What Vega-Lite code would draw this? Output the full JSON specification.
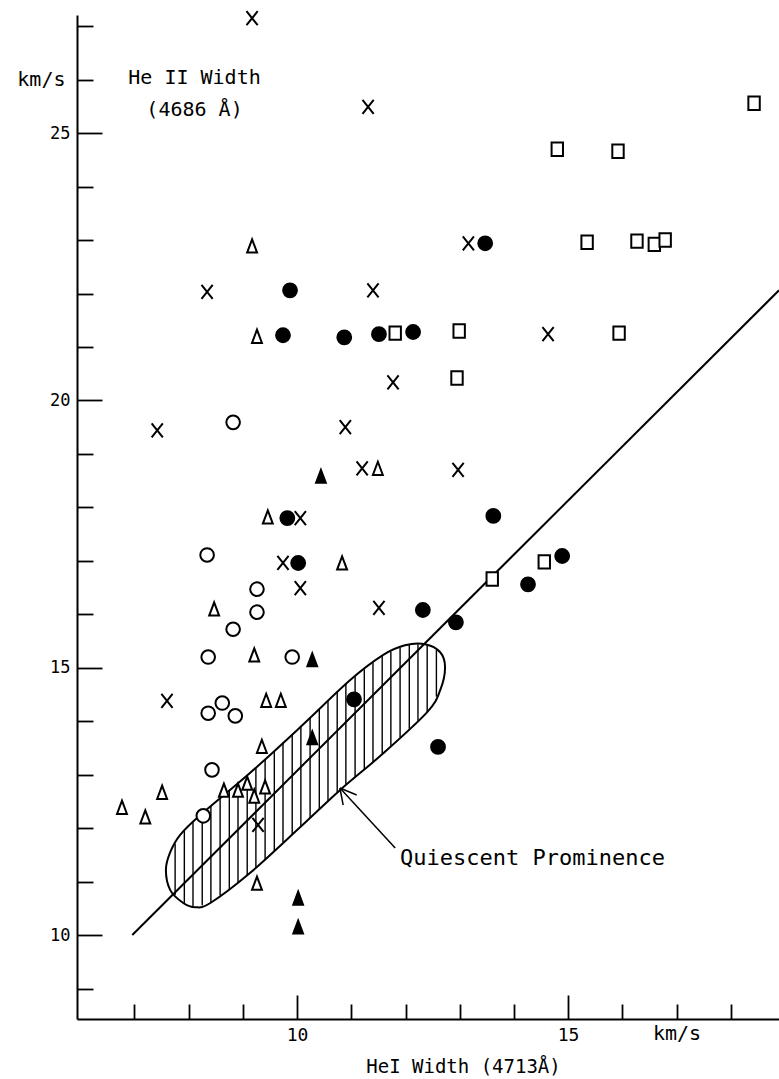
{
  "$schema": "https://vega.github.io/schema/vega-lite/v6.json",
  "width": 702,
  "height": 1004,
  "autosize": {"type": "none"},
  "padding": {"left": 77, "top": 15, "right": 0, "bottom": 60},
  "background": "white",
  "config": {"view": {"stroke": null}, "font": "DejaVu Sans Mono"},
  "datasets": {
    "points": [
      {"type": "cross", "x": 9.17, "y": 27.15},
      {"type": "cross", "x": 11.31, "y": 25.49},
      {"type": "cross", "x": 13.16, "y": 22.94},
      {"type": "cross", "x": 8.34, "y": 22.03},
      {"type": "cross", "x": 11.40, "y": 22.06},
      {"type": "cross", "x": 14.63, "y": 21.24},
      {"type": "cross", "x": 11.77, "y": 20.34},
      {"type": "cross", "x": 7.42, "y": 19.44},
      {"type": "cross", "x": 10.89, "y": 19.50},
      {"type": "cross", "x": 11.20, "y": 18.73},
      {"type": "cross", "x": 12.97, "y": 18.70},
      {"type": "cross", "x": 10.06, "y": 17.80},
      {"type": "cross", "x": 9.74, "y": 16.96},
      {"type": "cross", "x": 10.06, "y": 16.49},
      {"type": "cross", "x": 11.51, "y": 16.12},
      {"type": "cross", "x": 7.60, "y": 14.38},
      {"type": "cross", "x": 9.28, "y": 12.06},
      {"type": "disc", "x": 13.47, "y": 22.94},
      {"type": "disc", "x": 9.87, "y": 22.06},
      {"type": "disc", "x": 9.74, "y": 21.22},
      {"type": "disc", "x": 10.87, "y": 21.18},
      {"type": "disc", "x": 11.51, "y": 21.24},
      {"type": "disc", "x": 12.14, "y": 21.28},
      {"type": "disc", "x": 9.82, "y": 17.80},
      {"type": "disc", "x": 10.02, "y": 16.96},
      {"type": "disc", "x": 13.62, "y": 17.84},
      {"type": "disc", "x": 14.89, "y": 17.09},
      {"type": "disc", "x": 14.26, "y": 16.56},
      {"type": "disc", "x": 12.32, "y": 16.08},
      {"type": "disc", "x": 12.93, "y": 15.85},
      {"type": "disc", "x": 11.05, "y": 14.41},
      {"type": "disc", "x": 12.60, "y": 13.52},
      {"type": "ring", "x": 8.82, "y": 19.59},
      {"type": "ring", "x": 8.34, "y": 17.11},
      {"type": "ring", "x": 9.26, "y": 16.47},
      {"type": "ring", "x": 9.26, "y": 16.04},
      {"type": "ring", "x": 8.82, "y": 15.72},
      {"type": "ring", "x": 8.36, "y": 15.20},
      {"type": "ring", "x": 9.91, "y": 15.20},
      {"type": "ring", "x": 8.36, "y": 14.15},
      {"type": "ring", "x": 8.62, "y": 14.34},
      {"type": "ring", "x": 8.86, "y": 14.10},
      {"type": "ring", "x": 8.43, "y": 13.09},
      {"type": "ring", "x": 8.27, "y": 12.23},
      {"type": "square", "x": 18.43, "y": 25.56},
      {"type": "square", "x": 14.80, "y": 24.70},
      {"type": "square", "x": 15.92, "y": 24.66},
      {"type": "square", "x": 15.35, "y": 22.96},
      {"type": "square", "x": 16.27, "y": 22.98},
      {"type": "square", "x": 16.59, "y": 22.92},
      {"type": "square", "x": 16.79, "y": 23.00},
      {"type": "square", "x": 11.81, "y": 21.26},
      {"type": "square", "x": 12.99, "y": 21.30},
      {"type": "square", "x": 15.94, "y": 21.26},
      {"type": "square", "x": 12.95, "y": 20.42},
      {"type": "square", "x": 13.60, "y": 16.66},
      {"type": "square", "x": 14.56, "y": 16.98},
      {"type": "tri_open", "x": 9.17, "y": 22.89},
      {"type": "tri_open", "x": 9.26, "y": 21.20},
      {"type": "tri_open", "x": 11.49, "y": 18.73},
      {"type": "tri_open", "x": 9.46, "y": 17.82},
      {"type": "tri_open", "x": 10.83, "y": 16.96},
      {"type": "tri_open", "x": 8.47, "y": 16.10},
      {"type": "tri_open", "x": 9.21, "y": 15.24},
      {"type": "tri_open", "x": 9.43, "y": 14.39},
      {"type": "tri_open", "x": 9.70, "y": 14.39},
      {"type": "tri_open", "x": 9.35, "y": 13.53},
      {"type": "tri_open", "x": 6.77, "y": 12.39},
      {"type": "tri_open", "x": 7.20, "y": 12.21},
      {"type": "tri_open", "x": 7.51, "y": 12.67},
      {"type": "tri_open", "x": 8.65, "y": 12.71},
      {"type": "tri_open", "x": 8.91, "y": 12.71},
      {"type": "tri_open", "x": 9.08, "y": 12.84},
      {"type": "tri_open", "x": 9.21, "y": 12.60},
      {"type": "tri_open", "x": 9.41, "y": 12.77},
      {"type": "tri_open", "x": 9.26, "y": 10.97},
      {"type": "tri_filled", "x": 10.44, "y": 18.58},
      {"type": "tri_filled", "x": 10.28, "y": 15.15},
      {"type": "tri_filled", "x": 10.28, "y": 13.69},
      {"type": "tri_filled", "x": 10.02, "y": 10.69},
      {"type": "tri_filled", "x": 10.02, "y": 10.15}
    ],
    "hatch": [
      {"x": 7.75, "y": 11.71, "yb": 10.75},
      {"x": 7.92, "y": 11.95, "yb": 10.59},
      {"x": 8.08, "y": 12.11, "yb": 10.54},
      {"x": 8.25, "y": 12.28, "yb": 10.56},
      {"x": 8.41, "y": 12.42, "yb": 10.61},
      {"x": 8.58, "y": 12.56, "yb": 10.74},
      {"x": 8.75, "y": 12.70, "yb": 10.86},
      {"x": 8.91, "y": 12.84, "yb": 10.99},
      {"x": 9.08, "y": 12.98, "yb": 11.12},
      {"x": 9.24, "y": 13.13, "yb": 11.26},
      {"x": 9.41, "y": 13.29, "yb": 11.42},
      {"x": 9.58, "y": 13.44, "yb": 11.57},
      {"x": 9.74, "y": 13.60, "yb": 11.73},
      {"x": 9.91, "y": 13.75, "yb": 11.88},
      {"x": 10.07, "y": 13.91, "yb": 12.04},
      {"x": 10.24, "y": 14.07, "yb": 12.19},
      {"x": 10.41, "y": 14.23, "yb": 12.35},
      {"x": 10.57, "y": 14.38, "yb": 12.50},
      {"x": 10.74, "y": 14.54, "yb": 12.66},
      {"x": 10.90, "y": 14.70, "yb": 12.81},
      {"x": 11.07, "y": 14.84, "yb": 12.95},
      {"x": 11.24, "y": 14.97, "yb": 13.10},
      {"x": 11.40, "y": 15.09, "yb": 13.24},
      {"x": 11.57, "y": 15.22, "yb": 13.39},
      {"x": 11.73, "y": 15.30, "yb": 13.54},
      {"x": 11.90, "y": 15.38, "yb": 13.70},
      {"x": 12.07, "y": 15.43, "yb": 13.86},
      {"x": 12.23, "y": 15.44, "yb": 14.01},
      {"x": 12.40, "y": 15.42, "yb": 14.17},
      {"x": 12.57, "y": 15.33, "yb": 14.46}
    ],
    "outline": [
      {"o": 1, "x": 7.58, "y": 11.22},
      {"o": 2, "x": 7.66, "y": 10.84},
      {"o": 3, "x": 7.90, "y": 10.60},
      {"o": 4, "x": 8.12, "y": 10.52},
      {"o": 5, "x": 8.40, "y": 10.60},
      {"o": 6, "x": 9.13, "y": 11.16},
      {"o": 7, "x": 10.06, "y": 12.02},
      {"o": 8, "x": 10.79, "y": 12.71},
      {"o": 9, "x": 11.59, "y": 13.40},
      {"o": 10, "x": 12.40, "y": 14.17},
      {"o": 11, "x": 12.64, "y": 14.58},
      {"o": 12, "x": 12.73, "y": 15.01},
      {"o": 13, "x": 12.64, "y": 15.29},
      {"o": 14, "x": 12.36, "y": 15.44},
      {"o": 15, "x": 11.99, "y": 15.42},
      {"o": 16, "x": 11.59, "y": 15.24},
      {"o": 17, "x": 10.98, "y": 14.77},
      {"o": 18, "x": 10.06, "y": 13.89},
      {"o": 19, "x": 9.13, "y": 13.03},
      {"o": 20, "x": 8.21, "y": 12.24},
      {"o": 21, "x": 7.84, "y": 11.87},
      {"o": 22, "x": 7.66, "y": 11.55}
    ],
    "fit": [
      {"x": 6.96, "y": 10.0, "xe": 18.89, "ye": 22.06}
    ],
    "arrow": [
      {"x": 11.81, "y": 11.63, "xe": 10.79, "ye": 12.75},
      {"x": 10.79, "y": 12.75, "xe": 11.10, "ye": 12.62},
      {"x": 10.79, "y": 12.75, "xe": 10.85, "ye": 12.43}
    ],
    "notes": [
      {"x": 11.90, "y": 11.31, "text": "Quiescent Prominence"}
    ]
  },
  "encoding": {
    "x": {
      "field": "x",
      "type": "quantitative",
      "scale": {"domain": [5.94, 18.89], "nice": false, "zero": false},
      "axis": {
        "values": [7, 8, 9, 10, 11, 12, 13, 14, 15, 16, 17, 18],
        "grid": false,
        "title": "HeI Width (4713Å)",
        "titleFont": "DejaVu Sans Mono",
        "titleFontSize": 19,
        "titleFontWeight": "normal",
        "titleColor": "black",
        "titleX": 386,
        "titleY": 53,
        "titleAlign": "center",
        "titleBaseline": "alphabetic",
        "labelExpr": "datum.value == 10 || datum.value == 15 ? datum.label : (datum.value == 17 ? 'km/s' : '')",
        "labelFont": "DejaVu Sans Mono",
        "labelFontSize": {"condition": {"test": "datum.value == 17", "value": 20}, "value": 18},
        "labelColor": "black",
        "labelPadding": {"condition": {"test": "datum.value == 10 || datum.value == 15", "value": 31}, "value": 19},
        "labelFlush": false,
        "labelOverlap": false,
        "tickSize": {"condition": {"test": "datum.value == 10 || datum.value == 15", "value": -24}, "value": -15},
        "tickColor": "black",
        "tickWidth": 1.8,
        "domainColor": "black",
        "domainWidth": 2
      }
    },
    "y": {
      "field": "y",
      "type": "quantitative",
      "scale": {"domain": [8.43, 27.21], "nice": false, "zero": false},
      "axis": {
        "values": [9, 10, 11, 12, 13, 14, 15, 16, 17, 18, 19, 20, 21, 22, 23, 24, 25, 26, 27],
        "grid": false,
        "title": ["He II Width", "(4686 Å)"],
        "titleFont": "DejaVu Sans Mono",
        "titleFontSize": 20,
        "titleFontWeight": "normal",
        "titleColor": "black",
        "titleAngle": 0,
        "titleX": 117,
        "titleY": 68,
        "titleAlign": "center",
        "titleBaseline": "alphabetic",
        "titleLineHeight": 32,
        "labelExpr": "datum.value % 5 == 0 ? datum.label : (datum.value == 26 ? 'km/s' : '')",
        "labelFont": "DejaVu Sans Mono",
        "labelFontSize": {"condition": {"test": "datum.value == 26", "value": 20}, "value": 17},
        "labelColor": "black",
        "labelPadding": {"condition": {"test": "datum.value % 5 == 0", "value": 32}, "value": 28},
        "labelFlush": false,
        "labelOverlap": false,
        "tickSize": {"condition": {"test": "datum.value % 5 == 0", "value": -25}, "value": -16},
        "tickColor": "black",
        "tickWidth": 1.8,
        "domainColor": "black",
        "domainWidth": 2
      }
    }
  },
  "layer": [
    {
      "data": {"name": "hatch"},
      "mark": {"type": "rule", "color": "black", "strokeWidth": 1.4},
      "encoding": {"y2": {"field": "yb"}}
    },
    {
      "data": {"name": "outline"},
      "mark": {"type": "line", "color": "black", "strokeWidth": 2, "interpolate": "cardinal-closed"},
      "encoding": {"order": {"field": "o", "type": "quantitative"}}
    },
    {
      "data": {"name": "fit"},
      "mark": {"type": "rule", "color": "black", "strokeWidth": 2},
      "encoding": {"x2": {"field": "xe"}, "y2": {"field": "ye"}}
    },
    {
      "data": {"name": "arrow"},
      "mark": {"type": "rule", "color": "black", "strokeWidth": 1.5},
      "encoding": {"x2": {"field": "xe"}, "y2": {"field": "ye"}}
    },
    {
      "data": {"name": "points"},
      "mark": {"type": "point", "filled": true, "stroke": "black", "strokeWidth": 2, "opacity": 1},
      "encoding": {
        "shape": {
          "field": "type",
          "type": "nominal",
          "legend": null,
          "scale": {
            "domain": ["cross", "disc", "ring", "square", "tri_open", "tri_filled"],
            "range": ["M-0.8,-1L0.8,1M0.8,-1L-0.8,1", "circle", "circle", "M-0.85,-1H0.85V1H-0.85Z", "M0,-1L0.75,1H-0.75Z", "M0,-1L0.75,1H-0.75Z"]
          }
        },
        "fill": {
          "field": "type",
          "type": "nominal",
          "legend": null,
          "scale": {
            "domain": ["cross", "disc", "ring", "square", "tri_open", "tri_filled"],
            "range": ["white", "black", "white", "white", "white", "black"]
          }
        },
        "size": {
          "field": "type",
          "type": "ordinal",
          "legend": null,
          "scale": {
            "domain": ["cross", "disc", "ring", "square", "tri_open", "tri_filled"],
            "range": [196, 169, 144, 156, 196, 225]
          }
        }
      }
    },
    {
      "data": {"name": "notes"},
      "mark": {"type": "text", "font": "DejaVu Sans Mono", "fontSize": 22, "align": "left", "baseline": "alphabetic", "color": "black"},
      "encoding": {"text": {"field": "text"}}
    }
  ]
}
